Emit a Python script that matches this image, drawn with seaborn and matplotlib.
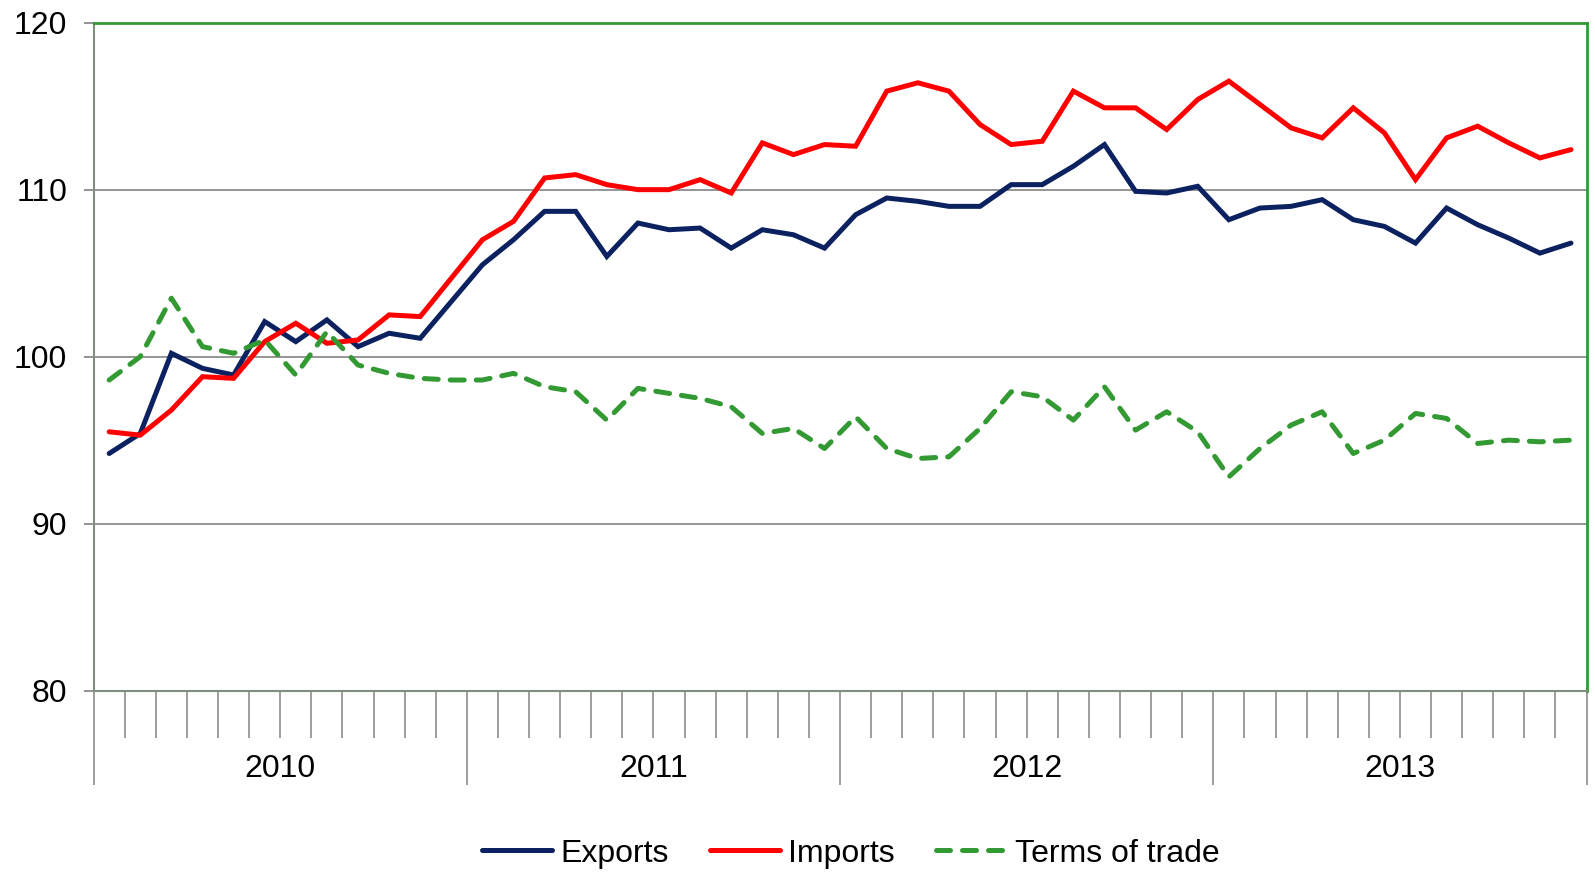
import numpy as np
import pandas as pd
import matplotlib
matplotlib.use('Agg')
import matplotlib.pyplot as plt
import matplotlib.transforms as mtransforms
import seaborn as sns

# monthly index values, Jan 2010 - Dec 2013
years = ['2010', '2011', '2012', '2013']
exports = [94.2, 95.4, 100.2, 99.3, 98.9, 102.1, 100.9, 102.2, 100.6, 101.4, 101.1, 103.3,
           105.5, 107.0, 108.7, 108.7, 106.0, 108.0, 107.6, 107.7, 106.5, 107.6, 107.3, 106.5,
           108.5, 109.5, 109.3, 109.0, 109.0, 110.3, 110.3, 111.4, 112.7, 109.9, 109.8, 110.2,
           108.2, 108.9, 109.0, 109.4, 108.2, 107.8, 106.8, 108.9, 107.9, 107.1, 106.2, 106.8]
imports = [95.5, 95.3, 96.8, 98.8, 98.7, 100.9, 102.0, 100.8, 101.0, 102.5, 102.4, 104.7,
           107.0, 108.1, 110.7, 110.9, 110.3, 110.0, 110.0, 110.6, 109.8, 112.8, 112.1, 112.7,
           112.6, 115.9, 116.4, 115.9, 113.9, 112.7, 112.9, 115.9, 114.9, 114.9, 113.6, 115.4,
           116.5, 115.1, 113.7, 113.1, 114.9, 113.4, 110.6, 113.1, 113.8, 112.8, 111.9, 112.4]
terms = [98.6, 100.0, 103.5, 100.6, 100.2, 101.0, 98.9, 101.5, 99.5, 99.0, 98.7, 98.6,
         98.6, 99.0, 98.2, 97.9, 96.2, 98.1, 97.8, 97.5, 97.0, 95.4, 95.7, 94.5,
         96.4, 94.5, 93.9, 94.0, 95.7, 97.9, 97.6, 96.2, 98.2, 95.6, 96.7, 95.5,
         92.8, 94.5, 95.9, 96.7, 94.2, 95.0, 96.6, 96.3, 94.8, 95.0, 94.9, 95.0]

df = pd.DataFrame({'month': np.arange(len(exports)), 'Exports': exports,
                   'Imports': imports, 'Terms of trade': terms})

sns.set_style('white')
plt.rcParams['font.family'] = ['Liberation Sans', 'DejaVu Sans']
plt.rcParams['text.color'] = 'black'
plt.rcParams['ytick.color'] = 'black'

fig = plt.figure(figsize=(15.95, 8.72), dpi=100)
ax = fig.add_axes([0.0587, 0.208, 0.936, 0.766])

sns.lineplot(data=df, x='month', y='Exports', ax=ax, color='#0B2160', lw=3.6,
             label='Exports', solid_joinstyle='miter')
sns.lineplot(data=df, x='month', y='Imports', ax=ax, color='#FF0000', lw=3.6,
             label='Imports', solid_joinstyle='miter')
sns.lineplot(data=df, x='month', y='Terms of trade', ax=ax, color='#339933', lw=3.6,
             label='Terms of trade', linestyle=(0, (2.8, 2.4)), dash_capstyle='round')

ax.set_xlim(-0.5, 47.5)
ax.set_ylim(80, 120)
ax.set_yticks([80, 90, 100, 110, 120])
ax.yaxis.grid(True, color='#8c8c8c', lw=1.3)
ax.set_axisbelow(True)
ax.tick_params(axis='y', labelsize=23, length=7, color='#808080', width=1.2,
               pad=12, direction='out', left=True, labelcolor='black')

# month ticks and year separators
ax.set_xticks([-0.5, 11.5, 23.5, 35.5, 47.5])
ax.set_xticklabels([])
ax.set_xticks([i + 0.5 for i in range(47) if (i + 1) % 12 != 0], minor=True)
ax.tick_params(axis='x', which='major', length=68, color='#8c8c8c', width=1.2, bottom=True)
ax.tick_params(axis='x', which='minor', length=34, color='#8c8c8c', width=1.2, bottom=True)
trans = mtransforms.blended_transform_factory(ax.transData, ax.transAxes)
for i, yr in enumerate(years):
    ax.text(12 * i + 5.5, -0.117, yr, transform=trans, ha='center', va='center',
            fontsize=23, color='black')

ax.set_xlabel('')
ax.set_ylabel('')
for side in ['left', 'bottom']:
    ax.spines[side].set_color('#7f8f7f')
    ax.spines[side].set_linewidth(1.5)
for side in ['top', 'right']:
    ax.spines[side].set_color('#339933')
    ax.spines[side].set_linewidth(2)

leg = ax.legend(loc='center', bbox_to_anchor=(0.507, -0.244), ncol=3, frameon=False,
                fontsize=23, handlelength=2.2, handletextpad=0.25, columnspacing=1.3)
for t in leg.get_texts():
    t.set_color('black')

fig.savefig('out.png', dpi=100)
